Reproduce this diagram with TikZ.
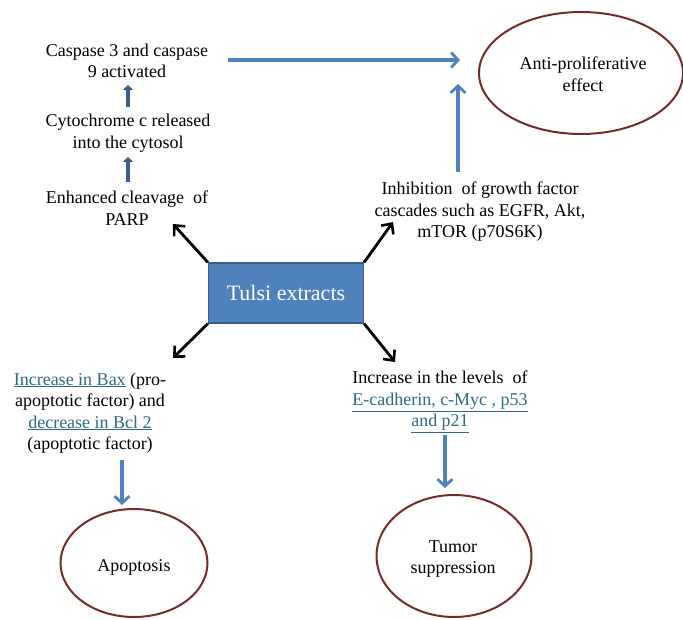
\documentclass[tikz,border=0pt]{standalone}
\usepackage{fontspec}
\setmainfont{Liberation Serif}
\usetikzlibrary{arrows.meta,shapes.geometric}
\definecolor{bluefill}{HTML}{4F81BD}
\definecolor{blueedge}{HTML}{385D8A}
\definecolor{darkblue}{HTML}{3A5F8C}
\definecolor{ellred}{HTML}{772A2A}
\definecolor{linkteal}{HTML}{2E6B80}
\newcommand{\lnk}[1]{\textcolor{linkteal}{\underline{#1}}}
\tikzset{
  txt/.style={align=center, font=\fontsize{18}{21.5}\selectfont, inner sep=0pt},
  bluearrow/.style={draw=bluefill, line width=3.4pt, -{Straight Barb[length=7pt,width=15pt,line width=2.8pt]}},
  smallarrow/.style={draw=darkblue, line width=4pt, -{Triangle[length=5pt,width=10pt]}},
  blackarrow/.style={draw=black, line width=2.8pt, -{Straight Barb[length=8pt,width=15pt,line width=2.6pt]}},
  endell/.style={draw=ellred, line width=2pt, ellipse, inner sep=0pt},
}
\begin{document}
\begin{tikzpicture}[x=1pt,y=-1pt]
\useasboundingbox (0,0) rectangle (683,619);
% ellipses
\node[endell, minimum width=204pt, minimum height=122pt] (anti) at (581,73) {};
\node[txt] (antitxt) at (583,74) {Anti-proliferative\\effect};
\node[endell, minimum width=147pt, minimum height=108pt] (apop) at (134,563) {};
\node[txt] (apoptxt) at (134,567) {Apoptosis};
\node[endell, minimum width=155pt, minimum height=122pt] (tumor) at (454,556) {};
\node[txt] (tumortxt) at (453,559) {Tumor\\suppression};
% texts
\node[txt] (casp) at (127,61) {Caspase 3 and caspase\\9 activated};
\node[txt] (cyto) at (128,133) {Cytochrome c released\\into the cytosol};
\node[txt] (parp) at (127,208) {Enhanced cleavage\ \ of\\PARP};
\node[txt] (inhib) at (480,212) {Inhibition\ \ of growth factor\\cascades such as EGFR, Akt,\\mTOR (p70S6K)};
\node[txt] (bax) at (90,413) {\lnk{Increase in Bax} (pro-\\apoptotic factor) and\\\lnk{decrease in Bcl 2}\\(apoptotic factor)};
\node[txt] (ecad) at (440,402) {Increase in the levels\ \ of\\\lnk{E-cadherin, c-Myc , p53}\\\lnk{and p21}};
% central box
\node[draw=blueedge, fill=bluefill, line width=1.2pt, minimum width=155pt, minimum height=60pt, inner sep=0pt, text=white, font=\fontsize{22}{26}\selectfont] (tulsi) at (286,293) {Tulsi extracts};
% coordinates for arrows
\coordinate (c1s) at (228,60); \coordinate (c1e) at (460,60);
\coordinate (c2s) at (458,172); \coordinate (c2e) at (458,84);
\coordinate (s1s) at (128,107); \coordinate (s1e) at (128,85);
\coordinate (s2s) at (128,182); \coordinate (s2e) at (128,157);
\coordinate (b1s) at (122,460); \coordinate (b1e) at (122,505);
\coordinate (b2s) at (445,435); \coordinate (b2e) at (445,488);
\draw[bluearrow] (c1s) -- (c1e);
\draw[bluearrow] (c2s) -- (c2e);
\draw[smallarrow] (s1s) -- (s1e);
\draw[smallarrow] (s2s) -- (s2e);
\draw[bluearrow] (b1s) -- (b1e);
\draw[bluearrow] (b2s) -- (b2e);
% black arrows from box corners
\coordinate (k1) at (173,224); \coordinate (k2) at (393,222);
\coordinate (k3) at (173,358); \coordinate (k4) at (395,362);
\draw[blackarrow] (tulsi.north west) -- (k1);
\draw[blackarrow] (tulsi.north east) -- (k2);
\draw[blackarrow] (tulsi.south west) -- (k3);
\draw[blackarrow] (tulsi.south east) -- (k4);
\end{tikzpicture}
\end{document}
